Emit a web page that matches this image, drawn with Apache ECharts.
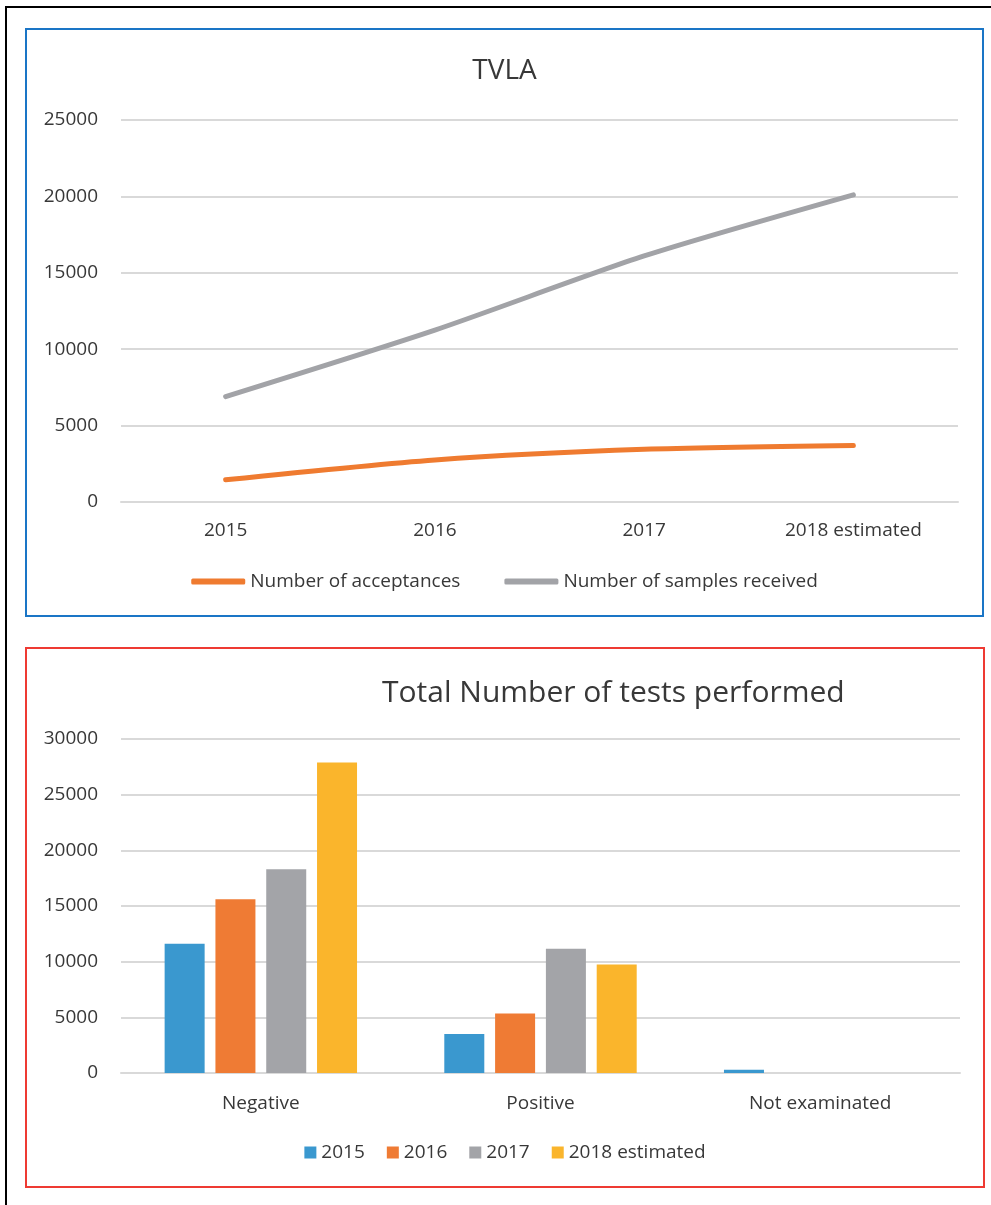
<!DOCTYPE html>
<html>
<head>
<meta charset="utf-8">
<script src="https://cdn.jsdelivr.net/npm/echarts@6/dist/echarts.min.js"></script>
<style>
	html, body {
		margin: 0;
		padding: 0;
		background: #fff;
		width: 991px;
		height: 1205px;
		overflow: hidden;
	}
	.frame {
		position: absolute;
		left: 5px;
		top: 6px;
		width: 1000px;
		height: 1220px;
		border-left: 2px solid #000;
		border-top: 2px solid #000;
	}
	.box {
		position: absolute;
		box-sizing: border-box;
		border: 2px solid;
	}
	#boxTop {
		left: 25px;
		top: 28px;
		width: 959px;
		height: 589px;
		border-color: #1a75c6;
	}
	#boxBottom {
		left: 25px;
		top: 647px;
		width: 960px;
		height: 541px;
		border-color: #ee3a33;
	}
	.chart {
		width: 100%;
		height: 100%;
	}
</style>
</head>
<body>
<div class="frame"></div>
<div class="box" id="boxTop"><div class="chart" id="lineChart"></div></div>
<div class="box" id="boxBottom"><div class="chart" id="barChart"></div></div>

<script>
	// TVLA line chart
	var years = ['2015', '2016', '2017', '2018 estimated'];
	var acceptances = [1450, 2750, 3450, 3700];
	var samplesReceived = [6900, 11250, 16100, 20100];

	// tests performed bar chart
	var testCategories = ['Negative', 'Positive', 'Not examinated'];
	var tests2015 = [11600, 3500, 300];
	var tests2016 = [15600, 5350, 0];
	var tests2017 = [18300, 11150, 0];
	var tests2018 = [27900, 9750, 0];

	var FONT = 'Open Sans';
	var TEXT = '#383838';
	var GRID_LINE = '#d9d9d9';

	// plain numbers, no thousands separator (as in Excel)
	var plain = function(v) {
		return String(v);
	};

	var lineOption = {
		animation: false,
		title: {
			text: 'TVLA',
			left: 'center',
			top: 22,
			textStyle: {
				fontFamily: FONT,
				fontSize: 28,
				fontWeight: 'normal',
				color: TEXT
			}
		},
		legend: {
			left: 'center',
			top: 537,
			icon: 'roundRect',
			itemWidth: 54,
			itemHeight: 6,
			itemGap: 44,
			textStyle: {
				fontFamily: FONT,
				fontSize: 19,
				color: TEXT
			},
			data: ['Number of acceptances', 'Number of samples received']
		},
		grid: {
			left: 94,
			top: 90,
			width: 837,
			height: 382,
			containLabel: false
		},
		xAxis: {
			type: 'category',
			data: years,
			boundaryGap: true,
			axisTick: { show: false },
			axisLine: { lineStyle: { color: GRID_LINE, width: 2 } },
			axisLabel: {
				margin: 19,
				fontFamily: FONT,
				fontSize: 19,
				color: TEXT
			}
		},
		yAxis: {
			type: 'value',
			min: 0,
			max: 25000,
			interval: 5000,
			axisLine: { show: false },
			axisTick: { show: false },
			axisLabel: {
				margin: 23,
				formatter: plain,
				fontFamily: FONT,
				fontSize: 19,
				color: TEXT
			},
			splitLine: { lineStyle: { color: GRID_LINE, width: 2 } }
		},
		series: [{
				name: 'Number of acceptances',
				type: 'line',
				data: acceptances,
				smooth: 0.25,
				showSymbol: false,
				color: '#ef7b30',
				lineStyle: { width: 5, cap: 'round' }
			},
			{
				name: 'Number of samples received',
				type: 'line',
				data: samplesReceived,
				smooth: 0.25,
				showSymbol: false,
				color: '#a2a3a7',
				lineStyle: { width: 5, cap: 'round' }
			}
		]
	};

	var barStyle = function(name, data, color) {
		return {
			name: name,
			type: 'bar',
			data: data,
			barWidth: 40,
			barGap: '27%',
			color: color
		};
	};

	var barOption = {
		animation: false,
		title: {
			text: 'Total Number of tests performed',
			left: 350,
			top: 24,
			textStyle: {
				fontFamily: FONT,
				fontSize: 30,
				fontWeight: 'normal',
				color: TEXT
			}
		},
		legend: {
			left: 'center',
			top: 489,
			icon: 'rect',
			itemWidth: 12,
			itemHeight: 12,
			itemGap: 22,
			textStyle: {
				fontFamily: FONT,
				fontSize: 19,
				color: TEXT
			},
			data: ['2015', '2016', '2017', '2018 estimated']
		},
		grid: {
			left: 94,
			top: 90,
			width: 839,
			height: 334,
			containLabel: false
		},
		xAxis: {
			type: 'category',
			data: testCategories,
			axisTick: { show: false },
			axisLine: { lineStyle: { color: GRID_LINE, width: 2 } },
			axisLabel: {
				margin: 21,
				fontFamily: FONT,
				fontSize: 19,
				color: TEXT
			}
		},
		yAxis: {
			type: 'value',
			min: 0,
			max: 30000,
			interval: 5000,
			axisLine: { show: false },
			axisTick: { show: false },
			axisLabel: {
				margin: 23,
				formatter: plain,
				fontFamily: FONT,
				fontSize: 19,
				color: TEXT
			},
			splitLine: { lineStyle: { color: GRID_LINE, width: 2 } }
		},
		series: [
			barStyle('2015', tests2015, '#3a98cf'),
			barStyle('2016', tests2016, '#ef7b34'),
			barStyle('2017', tests2017, '#a3a4a8'),
			barStyle('2018 estimated', tests2018, '#fab52c')
		]
	};

	echarts.init(document.getElementById('lineChart')).setOption(lineOption);
	echarts.init(document.getElementById('barChart')).setOption(barOption);
</script>
</body>
</html>
